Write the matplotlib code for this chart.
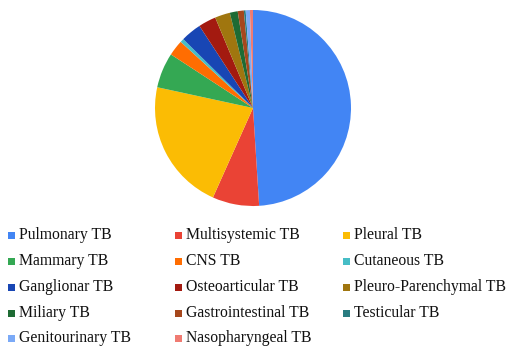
import matplotlib
matplotlib.use("Agg")
import matplotlib.pyplot as plt
from matplotlib.patches import Rectangle

categories = ["Pulmonary TB", "Multisystemic TB", "Pleural TB", "Mammary TB", "CNS TB",
              "Cutaneous TB", "Ganglionar TB", "Osteoarticular TB", "Pleuro-Parenchymal TB",
              "Miliary TB", "Gastrointestinal TB", "Testicular TB", "Genitourinary TB",
              "Nasopharyngeal TB"]
values = [49.0, 7.7, 21.7, 5.8, 2.6, 0.6, 3.4, 2.9, 2.5, 1.3, 1.0, 0.3, 0.7, 0.5]
colors = ["#4285F4", "#EA4335", "#FBBC04", "#34A853", "#FF6D01", "#46BDC6", "#1846B4",
          "#A31A10", "#A0760F", "#1E6B34", "#A6471C", "#297C80", "#7BAAF7", "#F07B72"]

W, H = 511, 350
fig = plt.figure(figsize=(W / 100, H / 100), dpi=100)
fig.patch.set_facecolor("white")

cx, cy, r = 253, 108, 98
ax = fig.add_axes([(cx - r) / W, (H - cy - r) / H, 2 * r / W, 2 * r / H])
ax.pie(values, colors=colors, startangle=90, counterclock=False,
       wedgeprops=dict(linewidth=0))
ax.set_xlim(-1, 1)
ax.set_ylim(-1, 1)
ax.set_aspect("equal")
ax.axis("off")

col_x = [8, 175, 343]
row_y = [235, 261, 287, 313, 338]
for i, (lab, col) in enumerate(zip(categories, colors)):
    r_i, c_i = divmod(i, 3)
    x = col_x[c_i]
    y = row_y[r_i]
    fig.patches.append(Rectangle((x / W, (H - y - 3.5) / H), 7 / W, 7 / H,
                                 transform=fig.transFigure, facecolor=col,
                                 edgecolor="none"))
    fig.text((x + 11) / W, (H - y) / H, lab, fontsize=11.3,
             family="Liberation Serif", va="center", ha="left", color="#111111")

fig.savefig("out.png", dpi=100, facecolor="white")
